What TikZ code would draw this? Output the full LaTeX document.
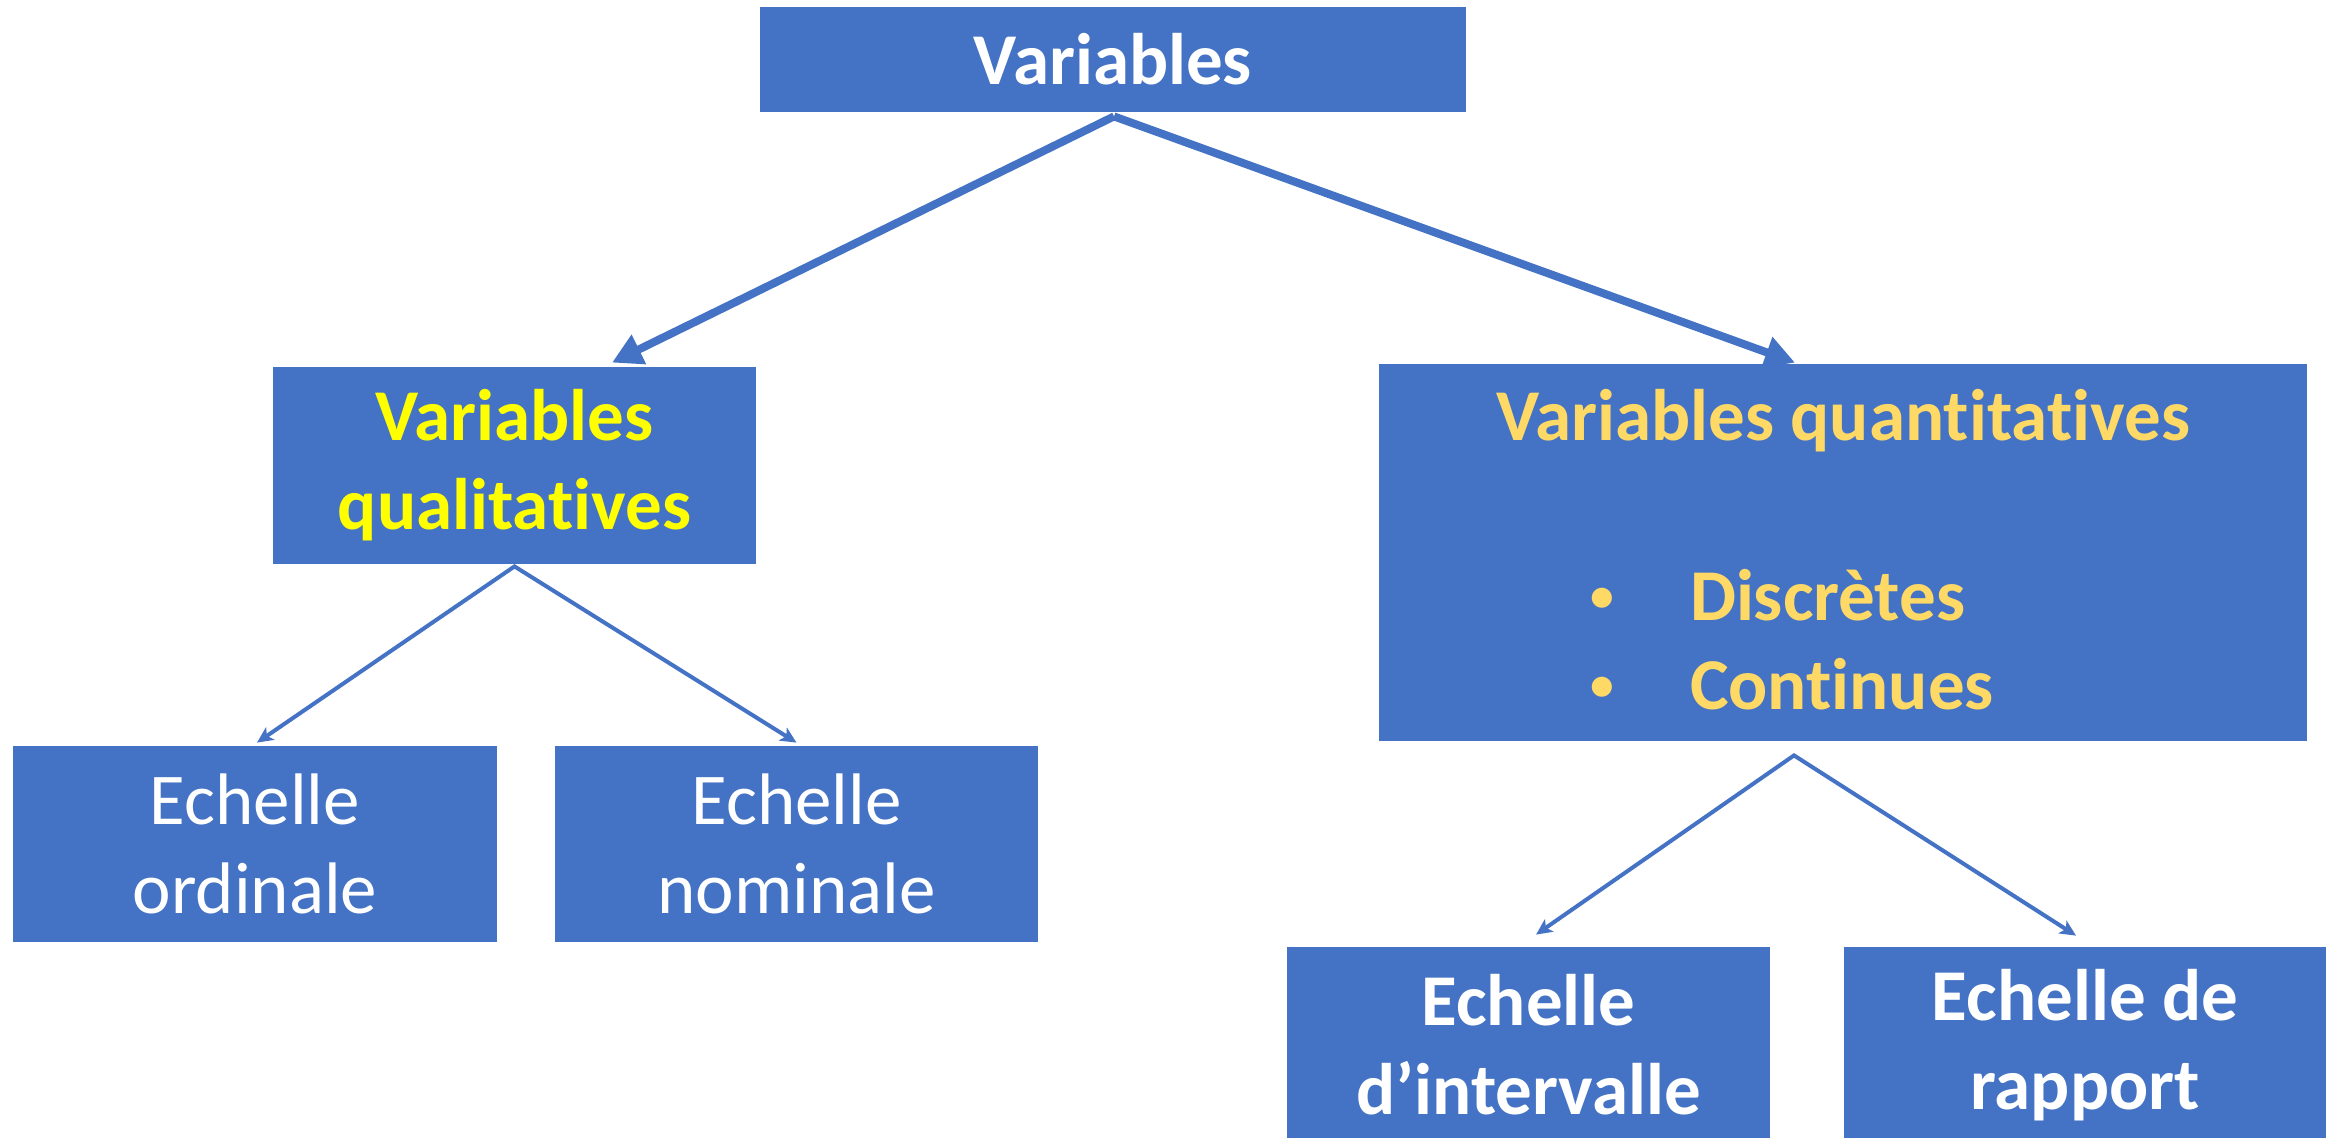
\documentclass[tikz,border=0pt]{standalone}
\usepackage{graphicx}
\usepackage{fontspec}
\setmainfont{Carlito}[RawFeature={-liga;-clig;-dlig;-calt}]
\usetikzlibrary{arrows.meta,calc}
\definecolor{boxblue}{HTML}{4472C4}
\definecolor{qualyellow}{HTML}{FFFF00}
\definecolor{quantgold}{HTML}{FFD966}
\newcommand{\mybullet}{\makebox[0pt]{\raisebox{4.5pt}{\scalebox{0.65}{•}}}}
\newcommand{\nolig}{\kern0pt\relax}
\begin{document}
\begin{tikzpicture}[x=0.5pt,y=-0.5pt,
  box/.style={fill=boxblue, draw=none, inner sep=0pt, align=center,
    font={\fontsize{36.5pt}{44.5pt}\selectfont}},
  boldbox/.style={box, font={\fontsize{36.5pt}{44.5pt}\selectfont\bfseries}},
  qtext/.style={inner sep=0pt, text=quantgold,
    font={\fontsize{36.5pt}{44.5pt}\selectfont\bfseries}},
  thickarrow/.style={draw=boxblue, line width=4pt, -{Triangle[length=15pt,width=15.5pt]}},
  thinarrow/.style={draw=boxblue, line width=2pt, line join=miter,
    {Stealth[length=8pt,width=7.5pt,inset=2pt]}-{Stealth[length=8pt,width=7.5pt,inset=2pt]}}]
\useasboundingbox (0,0) rectangle (2338,1137);
\clip (0,0) rectangle (2338,1137);

% boxes
\node[boldbox, text=white, minimum width=353pt, minimum height=52.5pt] (var) at (1113,59.5) {Variables};
\node[boldbox, text=qualyellow, minimum width=241.5pt, minimum height=98.5pt] (qual) at (514.5,465.5) {Variables\\qualitat\nolig ives};
\node[box, minimum width=464pt, minimum height=188.5pt] (quant) at (1843,552.5) {};
\node[box, text=white, minimum width=242pt, minimum height=98pt] (ord) at (255,844) {Echelle\\ordinale};
\node[box, text=white, minimum width=241.5pt, minimum height=98pt] (nom) at (796.5,844) {Echelle\\nominale};
\node[boldbox, text=white, minimum width=241.5pt, minimum height=98pt] (int) at (1528.5,1045) {Echelle\\d’intervalle};
\node[boldbox, text=white, minimum width=241pt, minimum height=98pt] (rap) at (2085,1045) {Echelle de\\rapport};

% text of the quantitative box
\node[qtext, anchor=base] (qtitle) at ($(quant.north)+(0,77)$) {Variables quant\nolig itat\nolig ives};
\node[qtext, anchor=base west] (qdisc) at ($(quant.north west)+(223,257)$) {\mybullet\hspace{44pt}Discrètes};
\node[qtext, anchor=base west] (qcont) at ($(quant.north west)+(223,346)$) {\mybullet\hspace{44pt}Cont\nolig inues};

% connectors
\draw[thickarrow] ($(var.south)+(1,4)$) -- ($(qual.north)+(97.5,-4)$);
\draw[thickarrow] ($(var.south)+(1,4)$) -- ($(quant.north)+(-48,-1)$);
\draw[thinarrow] ($(ord.north)+(2,-3)$) -- ($(qual.south)+(0,2)$) -- ($(nom.north)+(0,-3)$);
\draw[thinarrow] ($(int.north)+(7.5,-12)$) -- ($(quant.south)+(-49,14)$) -- ($(rap.north)+(-9,-11)$);
\end{tikzpicture}
\end{document}
